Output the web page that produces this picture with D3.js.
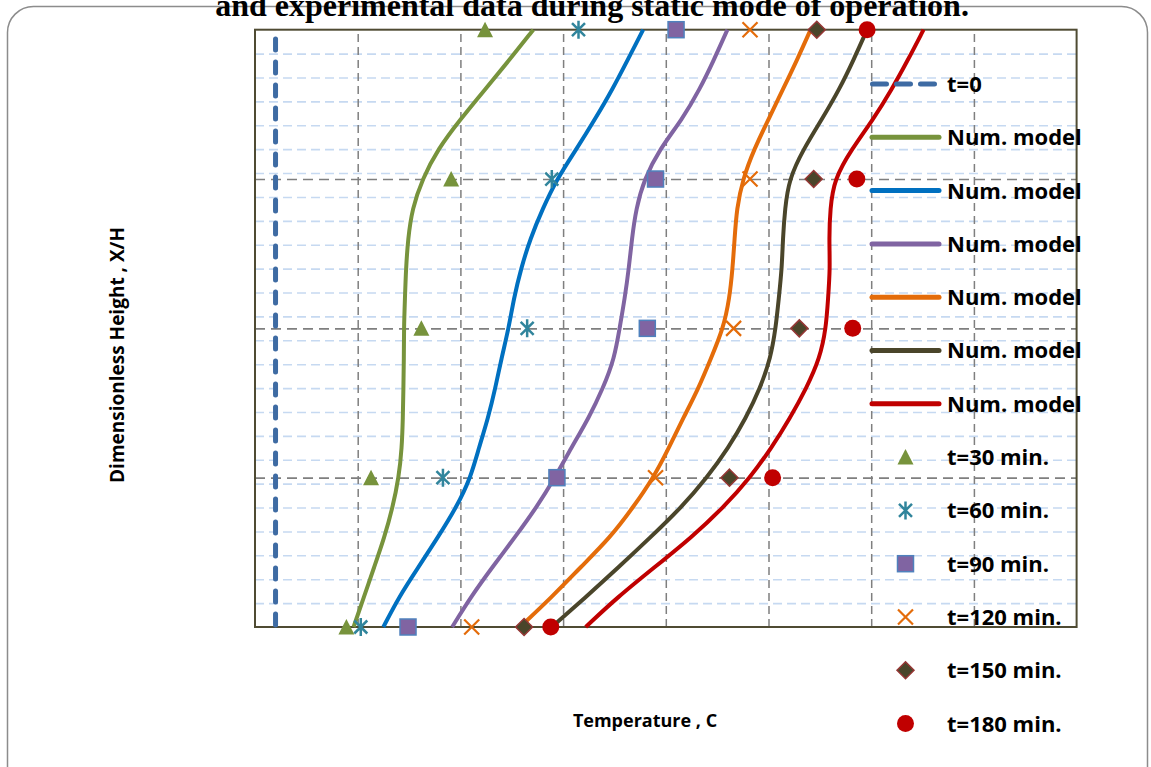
<!DOCTYPE html>
<html>
<head>
<meta charset="utf-8">
<script src="https://cdn.jsdelivr.net/npm/d3@7/dist/d3.min.js"></script>
<style>
  html, body { margin: 0; padding: 0; background: #fff; }
  svg { display: block; }
</style>
</head>
<body>
<div id="chart"></div>
<script>
/* ────────────────────────────────────────────────────────────
   Temperature profiles: numerical model vs experiment
   ──────────────────────────────────────────────────────────── */

// ── Data ─────────────────────────────────────────────────
const heights = [0, 0.05, 0.1, 0.15, 0.2, 0.25, 0.3, 0.35, 0.4, 0.45, 0.5,
                 0.55, 0.6, 0.65, 0.7, 0.75, 0.8, 0.85, 0.9, 0.95, 1];

const model30  = [29.6, 30.6, 31.6, 32.6, 33.4, 34.0, 34.3, 34.4, 34.45, 34.5, 34.5,
                  34.6, 34.7, 34.9, 35.3, 36.3, 37.8, 40.0, 42.4, 44.8, 47.1];
const model60  = [32.5, 34.0, 35.9, 37.8, 39.6, 41.0, 41.8, 42.7, 43.4, 44.0, 44.7,
                  45.2, 45.9, 46.8, 48.0, 49.4, 51.3, 53.1, 54.8, 56.3, 57.8];
const model90  = [39.2, 41.0, 43.1, 45.3, 47.4, 49.2, 50.8, 52.5, 53.9, 55.0, 55.5,
                  56.0, 56.4, 56.7, 57.1, 57.9, 59.4, 61.6, 63.3, 64.7, 66.0];
const model120 = [45.8, 48.9, 51.7, 54.6, 56.8, 58.8, 60.3, 61.7, 63.2, 64.4, 65.6,
                  66.2, 66.5, 66.7, 66.9, 67.5, 68.6, 70.0, 71.4, 72.8, 74.1];
const model150 = [48.9, 52.2, 55.4, 58.5, 61.5, 64.0, 66.1, 67.8, 69.2, 70.2, 70.7,
                  71.0, 71.3, 71.4, 71.6, 72.0, 73.4, 75.2, 76.9, 78.3, 79.6];
const model180 = [52.2, 55.3, 58.9, 62.5, 65.6, 68.2, 70.3, 72.1, 73.7, 75.0, 75.6,
                  75.8, 76.0, 75.9, 76.0, 76.4, 78.1, 80.2, 82.0, 83.6, 85.1];

const expHeights = [0, 0.25, 0.5, 0.75, 1];
const exp30  = [28.9, 31.3, 36.2, 39.1, 42.4];
const exp60  = [30.3, 38.3, 46.5, 48.9, 51.5];
const exp90  = [34.9, 49.4, 58.2, 59.0, 61.0];
const exp120 = [41.1, 59.0, 66.6, 68.2, 68.2];
const exp150 = [46.2, 66.2, 73.0, 74.4, 74.7];
const exp180 = [48.8, 70.4, 78.2, 78.6, 79.6];

const initialTemp = 22;
const initialHeights = [0, 1];

const xTicks = [20, 30, 40, 50, 60, 70, 80, 90, 100];
const yMajorTicks = [0, 0.25, 0.5, 0.75, 1];
const yMinorTicks = [0.04, 0.08, 0.12, 0.16, 0.2, 0.24, 0.28, 0.32, 0.36, 0.4, 0.44, 0.48,
                     0.52, 0.56, 0.6, 0.64, 0.68, 0.72, 0.76, 0.8, 0.84, 0.88, 0.92, 0.96];

const modelLabel = 'Num. model';
const expLabels = ['t=30 min.', 't=60 min.', 't=90 min.', 't=120 min.', 't=150 min.', 't=180 min.'];

// ── Styles ───────────────────────────────────────────────
const lineColors = ['#77933c', '#0070c0', '#8064a2', '#e46c0a', '#4a452a', '#c00000'];
const FONT = "'Open Sans', sans-serif";

document.addEventListener('DOMContentLoaded', () => {
  renderChart('#chart');
});

function renderChart(selector) {
  const width = 1151, height = 767;
  const plot = { left: 255, right: 1076.6, top: 29.7, bottom: 627 };

  const svg = d3.select(selector)
    .append('svg')
    .attr('width', width)
    .attr('height', height);

  svg.append('rect').attr('width', width).attr('height', height).attr('fill', '#fff');

  // ── Outer frame ──────────────────────────────────────────
  svg.append('rect')
    .attr('x', 7.5).attr('y', 6.5)
    .attr('width', 1140).attr('height', 820)
    .attr('rx', 26)
    .attr('fill', 'none')
    .attr('stroke', '#8c8c8c')
    .attr('stroke-width', 1.5);

  // ── Scales ─────────────────────────────────────────────
  const x = d3.scaleLinear().domain([20, 100]).range([plot.left, plot.right]);
  const y = d3.scaleLinear().domain([0, 1]).range([plot.bottom, plot.top]);
  const W = plot.right - plot.left;

  // ── Gridlines ──────────────────────────────────────────
  svg.append('g')
    .attr('transform', `translate(${plot.left},0)`)
    .call(d3.axisLeft(y).tickValues(yMinorTicks).tickSize(-W).tickFormat(''))
    .call(gg => gg.select('.domain').remove())
    .call(gg => gg.selectAll('.tick line')
      .attr('stroke', '#c6d9f1')
      .attr('stroke-width', 1.6)
      .attr('stroke-dasharray', '9,5'));

  svg.append('g')
    .attr('transform', `translate(0,${plot.bottom})`)
    .call(d3.axisBottom(x).tickValues(xTicks.slice(1, -1)).tickSize(-(plot.bottom - plot.top)).tickFormat(''))
    .call(gg => gg.select('.domain').remove())
    .call(gg => gg.selectAll('.tick line')
      .attr('stroke', '#7f7f7f')
      .attr('stroke-width', 1.5)
      .attr('stroke-dasharray', '8,5'));

  svg.append('g')
    .attr('transform', `translate(${plot.left},0)`)
    .call(d3.axisLeft(y).tickValues(yMajorTicks.slice(1, -1)).tickSize(-W).tickFormat(''))
    .call(gg => gg.select('.domain').remove())
    .call(gg => gg.selectAll('.tick line')
      .attr('stroke', '#7f7f7f')
      .attr('stroke-width', 1.6)
      .attr('stroke-dasharray', '10,6'));

  // ── Plot border ────────────────────────────────────────
  svg.append('rect')
    .attr('x', plot.left).attr('y', plot.top)
    .attr('width', W).attr('height', plot.bottom - plot.top)
    .attr('fill', 'none')
    .attr('stroke', '#4f4b33')
    .attr('stroke-width', 2);

  // ── Initial profile (t=0) ──────────────────────────────
  svg.append('line')
    .attr('x1', x(initialTemp)).attr('x2', x(initialTemp))
    .attr('y1', y(initialHeights[0]) - 2).attr('y2', y(initialHeights[1]) + 3)
    .attr('stroke', '#3e6ba3')
    .attr('stroke-width', 5)
    .attr('stroke-linecap', 'round')
    .attr('stroke-dasharray', '11,12');

  // ── Model curves ───────────────────────────────────────
  const models = [model30, model60, model90, model120, model150, model180];
  const line = d3.line()
    .x(d => x(d[0]))
    .y(d => y(d[1]))
    .curve(d3.curveBasis);

  models.forEach((vals, i) => {
    svg.append('path')
      .datum(vals.map((v, k) => [v, heights[k]]))
      .attr('d', line)
      .attr('fill', 'none')
      .attr('stroke', lineColors[i])
      .attr('stroke-width', 4);
  });

  // ── Experimental markers ───────────────────────────────
  const markers = [
    { vals: exp30,  draw: triangle },
    { vals: exp60,  draw: star },
    { vals: exp90,  draw: square },
    { vals: exp120, draw: cross },
    { vals: exp150, draw: diamond },
    { vals: exp180, draw: dot },
  ];

  markers.forEach(m => {
    m.vals.forEach((v, k) => m.draw(svg, x(v), y(expHeights[k])));
  });

  // ── Legend ─────────────────────────────────────────────
  const lx0 = 870, lx1 = 941, mx = 905.5, tx = 947, ly0 = 84, step = 53.3;
  const legend = svg.append('g');
  const label = (i, txt) => legend.append('text')
    .attr('x', tx).attr('y', ly0 + i * step)
    .attr('dy', '0.36em')
    .attr('font-family', FONT).attr('font-weight', 700).attr('font-size', 22)
    .attr('fill', '#000')
    .text(txt);

  legend.append('line')
    .attr('x1', lx0 + 2.5).attr('x2', lx1)
    .attr('y1', ly0).attr('y2', ly0)
    .attr('stroke', '#3e6ba3').attr('stroke-width', 5)
    .attr('stroke-linecap', 'round').attr('stroke-dasharray', '14,10');
  label(0, 't=0');

  lineColors.forEach((c, i) => {
    legend.append('line')
      .attr('x1', lx0 + 2).attr('x2', lx1 - 2)
      .attr('y1', ly0 + (i + 1) * step).attr('y2', ly0 + (i + 1) * step)
      .attr('stroke', c).attr('stroke-width', 5).attr('stroke-linecap', 'round');
    label(i + 1, modelLabel);
  });

  markers.forEach((m, i) => {
    m.draw(legend, mx, ly0 + (i + 7) * step);
    label(i + 7, expLabels[i]);
  });

  // ── Titles ─────────────────────────────────────────────
  svg.append('text')
    .attr('x', 592).attr('y', 16)
    .attr('text-anchor', 'middle')
    .attr('font-family', "'Liberation Serif', 'Times New Roman', serif")
    .attr('font-weight', 700).attr('font-size', 32)
    .text('and experimental data during static mode of operation.');

  svg.append('text')
    .attr('transform', 'translate(124,355) rotate(-90)')
    .attr('text-anchor', 'middle')
    .attr('font-family', FONT).attr('font-weight', 700).attr('font-size', 19)
    .text('Dimensionless Height , X/H');

  svg.append('text')
    .attr('x', 645).attr('y', 727)
    .attr('text-anchor', 'middle')
    .attr('font-family', FONT).attr('font-weight', 700).attr('font-size', 18)
    .text('Temperature ,  C');
}

/* ── Marker shapes ─────────────────────────────────────── */
function triangle(g, cx, cy) {
  g.append('path')
    .attr('d', `M${cx},${cy - 8}L${cx + 8},${cy + 7.5}L${cx - 8},${cy + 7.5}Z`)
    .attr('fill', '#77933c');
}
function star(g, cx, cy) {
  const a = 6.5, r = 9;
  g.append('path')
    .attr('d', `M${cx - a},${cy - a}L${cx + a},${cy + a}M${cx - a},${cy + a}L${cx + a},${cy - a}M${cx},${cy - r}L${cx},${cy + r}`)
    .attr('stroke', '#31859c').attr('stroke-width', 2.5).attr('fill', 'none');
}
function square(g, cx, cy) {
  g.append('rect')
    .attr('x', cx - 8).attr('y', cy - 8).attr('width', 16).attr('height', 16)
    .attr('fill', '#8064a2').attr('stroke', '#4f81bd').attr('stroke-width', 1.5);
}
function cross(g, cx, cy) {
  const a = 7.5;
  g.append('path')
    .attr('d', `M${cx - a},${cy - a}L${cx + a},${cy + a}M${cx - a},${cy + a}L${cx + a},${cy - a}`)
    .attr('stroke', '#e46c0a').attr('stroke-width', 2.2).attr('fill', 'none');
}
function diamond(g, cx, cy) {
  const a = 8.5;
  g.append('path')
    .attr('d', `M${cx},${cy - a}L${cx + a},${cy}L${cx},${cy + a}L${cx - a},${cy}Z`)
    .attr('fill', '#4a452a').attr('stroke', '#953735').attr('stroke-width', 1.5);
}
function dot(g, cx, cy) {
  g.append('circle')
    .attr('cx', cx).attr('cy', cy).attr('r', 8.5)
    .attr('fill', '#c00000');
}
</script>
</body>
</html>
